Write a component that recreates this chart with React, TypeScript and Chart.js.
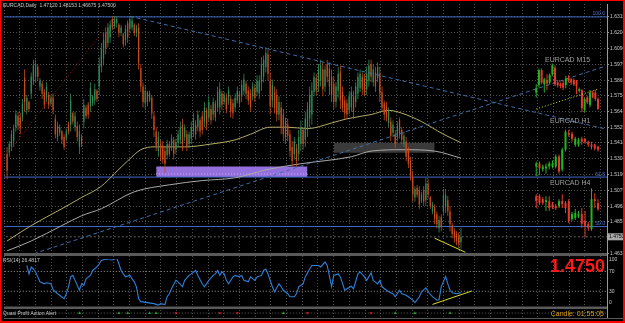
import React, { useEffect, useRef } from 'react';
import { Chart, registerables } from 'chart.js';

Chart.register(...registerables);

// ---------------- texts ----------------
const titleText = 'EURCAD,Daily  1.47120 1.48153 1.46675 1.47500';
const rsiTitle = 'RSI(14) 26.4817';
const alertTitle = 'Quasi Profit Action Alert';
const timerText = 'Candle: 01:55:05';
const miniLabels = ['EURCAD M15', 'EURCAD H1', 'EURCAD H4'];

// ---------------- daily candles [open, high, low, close] ----------------
const dailyCandles: number[][] = [
  [1.534,1.539,1.516,1.522],[1.535,1.543,1.532,1.541],[1.539,1.551,1.536,1.548],[1.543,1.555,1.539,1.552],
  [1.553,1.565,1.550,1.562],[1.561,1.564,1.551,1.554],[1.560,1.563,1.548,1.552],[1.560,1.573,1.557,1.570],
  [1.588,1.594,1.564,1.571],[1.565,1.576,1.562,1.574],[1.571,1.572,1.564,1.566],[1.577,1.592,1.573,1.589],
  [1.586,1.601,1.583,1.597],[1.589,1.601,1.585,1.598],[1.596,1.598,1.586,1.589],[1.582,1.588,1.579,1.586],
  [1.584,1.586,1.573,1.577],[1.578,1.580,1.566,1.569],[1.574,1.585,1.571,1.582],[1.576,1.578,1.566,1.569],
  [1.570,1.576,1.568,1.574],[1.574,1.577,1.562,1.565],[1.559,1.562,1.545,1.548],[1.554,1.557,1.543,1.546],
  [1.549,1.555,1.547,1.553],[1.550,1.551,1.541,1.544],[1.546,1.548,1.537,1.539],[1.545,1.552,1.543,1.550],
  [1.555,1.557,1.548,1.550],[1.555,1.577,1.550,1.572],[1.563,1.564,1.555,1.557],[1.553,1.564,1.550,1.561],
  [1.554,1.557,1.543,1.546],[1.539,1.555,1.534,1.550],[1.546,1.548,1.539,1.541],[1.557,1.573,1.552,1.569],
  [1.567,1.569,1.559,1.561],[1.569,1.571,1.559,1.562],[1.568,1.585,1.564,1.581],[1.570,1.576,1.568,1.575],
  [1.572,1.584,1.569,1.580],[1.579,1.580,1.571,1.573],[1.582,1.603,1.576,1.597],[1.596,1.613,1.592,1.609],
  [1.602,1.620,1.597,1.615],[1.620,1.624,1.605,1.609],[1.613,1.627,1.610,1.624],[1.617,1.629,1.613,1.626],
  [1.630,1.632,1.622,1.624],[1.625,1.632,1.623,1.630],[1.627,1.632,1.624,1.630],[1.626,1.627,1.617,1.620],
  [1.620,1.626,1.618,1.624],[1.619,1.620,1.610,1.612],[1.615,1.626,1.611,1.623],[1.627,1.629,1.613,1.617],
  [1.623,1.632,1.620,1.630],[1.624,1.632,1.622,1.629],[1.626,1.627,1.618,1.620],[1.620,1.626,1.617,1.624],
  [1.624,1.627,1.594,1.599],[1.595,1.598,1.578,1.582],[1.582,1.585,1.567,1.571],[1.570,1.583,1.566,1.579],
  [1.578,1.579,1.568,1.571],[1.572,1.579,1.571,1.577],[1.574,1.576,1.559,1.563],[1.561,1.564,1.546,1.551],
  [1.550,1.553,1.536,1.539],[1.536,1.550,1.532,1.546],[1.541,1.544,1.529,1.532],[1.540,1.543,1.527,1.530],
  [1.536,1.539,1.520,1.527],[1.533,1.544,1.530,1.541],[1.541,1.543,1.532,1.534],[1.539,1.548,1.536,1.545],
  [1.544,1.546,1.530,1.534],[1.537,1.545,1.534,1.542],[1.542,1.551,1.539,1.548],[1.544,1.557,1.541,1.553],
  [1.555,1.559,1.536,1.541],[1.546,1.555,1.543,1.553],[1.548,1.551,1.536,1.539],[1.541,1.550,1.538,1.548],
  [1.545,1.557,1.541,1.553],[1.550,1.563,1.546,1.559],[1.555,1.558,1.544,1.548],[1.553,1.565,1.550,1.562],
  [1.558,1.560,1.546,1.550],[1.561,1.564,1.548,1.551],[1.557,1.571,1.553,1.567],[1.565,1.567,1.551,1.555],
  [1.560,1.575,1.557,1.571],[1.566,1.569,1.555,1.558],[1.562,1.574,1.558,1.571],[1.570,1.572,1.557,1.560],
  [1.567,1.582,1.564,1.578],[1.567,1.585,1.562,1.580],[1.577,1.579,1.565,1.569],[1.571,1.578,1.569,1.576],
  [1.574,1.577,1.563,1.566],[1.572,1.582,1.569,1.579],[1.573,1.576,1.560,1.564],[1.570,1.573,1.559,1.563],
  [1.567,1.577,1.564,1.574],[1.572,1.582,1.570,1.579],[1.577,1.579,1.567,1.570],[1.575,1.586,1.571,1.583],
  [1.579,1.591,1.576,1.587],[1.584,1.586,1.573,1.577],[1.579,1.582,1.569,1.572],[1.577,1.580,1.564,1.567],
  [1.575,1.585,1.572,1.582],[1.581,1.584,1.571,1.574],[1.578,1.590,1.575,1.586],[1.577,1.590,1.573,1.586],
  [1.585,1.603,1.579,1.598],[1.589,1.604,1.585,1.601],[1.596,1.610,1.592,1.606],[1.605,1.608,1.586,1.591],
  [1.586,1.592,1.562,1.568],[1.572,1.587,1.567,1.583],[1.578,1.582,1.563,1.567],[1.576,1.580,1.557,1.562],
  [1.562,1.575,1.558,1.571],[1.567,1.571,1.548,1.553],[1.562,1.566,1.543,1.548],[1.557,1.560,1.541,1.546],
  [1.555,1.559,1.543,1.547],[1.548,1.551,1.532,1.536],[1.539,1.543,1.525,1.529],[1.534,1.546,1.530,1.543],
  [1.538,1.541,1.525,1.529],[1.534,1.551,1.529,1.546],[1.541,1.558,1.536,1.553],[1.551,1.553,1.537,1.541],
  [1.544,1.564,1.539,1.559],[1.551,1.571,1.546,1.566],[1.559,1.582,1.553,1.576],[1.562,1.585,1.555,1.579],
  [1.578,1.592,1.575,1.589],[1.588,1.591,1.576,1.579],[1.582,1.598,1.578,1.594],[1.586,1.601,1.582,1.597],
  [1.594,1.599,1.575,1.580],[1.582,1.597,1.578,1.594],[1.598,1.601,1.585,1.589],[1.595,1.599,1.576,1.582],
  [1.589,1.594,1.571,1.576],[1.584,1.589,1.566,1.571],[1.571,1.585,1.567,1.582],[1.579,1.596,1.574,1.591],
  [1.592,1.597,1.566,1.572],[1.578,1.582,1.564,1.567],[1.572,1.575,1.559,1.563],[1.570,1.573,1.559,1.562],
  [1.565,1.578,1.562,1.575],[1.567,1.582,1.564,1.578],[1.575,1.579,1.559,1.564],[1.571,1.585,1.567,1.582],
  [1.577,1.592,1.573,1.589],[1.581,1.594,1.578,1.591],[1.589,1.592,1.576,1.580],[1.588,1.591,1.575,1.578],
  [1.580,1.596,1.576,1.591],[1.586,1.601,1.582,1.597],[1.598,1.601,1.585,1.589],[1.585,1.598,1.582,1.594],
  [1.592,1.596,1.578,1.582],[1.588,1.599,1.585,1.596],[1.591,1.596,1.571,1.577],[1.578,1.582,1.564,1.567],
  [1.570,1.572,1.558,1.562],[1.568,1.571,1.557,1.560],[1.556,1.567,1.553,1.565],[1.557,1.560,1.543,1.547],
  [1.549,1.558,1.546,1.555],[1.548,1.551,1.538,1.541],[1.546,1.557,1.543,1.554],[1.558,1.560,1.545,1.548],
  [1.551,1.553,1.541,1.544],[1.541,1.550,1.539,1.547],[1.543,1.546,1.529,1.532],[1.536,1.539,1.524,1.527],
  [1.529,1.532,1.515,1.518],[1.517,1.522,1.500,1.505],[1.503,1.511,1.500,1.509],[1.510,1.512,1.503,1.505],
  [1.508,1.511,1.495,1.498],[1.501,1.507,1.499,1.505],[1.508,1.511,1.497,1.500],[1.501,1.517,1.497,1.513],
  [1.513,1.516,1.502,1.505],[1.503,1.504,1.495,1.497],[1.493,1.500,1.491,1.498],[1.496,1.498,1.484,1.488],
  [1.491,1.493,1.481,1.484],[1.481,1.490,1.478,1.487],[1.489,1.491,1.479,1.482],[1.493,1.509,1.490,1.505],
  [1.496,1.509,1.492,1.505],[1.501,1.504,1.490,1.493],[1.493,1.497,1.479,1.484],[1.483,1.485,1.474,1.477],
  [1.479,1.481,1.471,1.474],[1.477,1.479,1.469,1.472],[1.476,1.478,1.467,1.470],[1.4712,1.48153,1.46675,1.475],
];

// ---------------- price axis ----------------
const priceTicks = [1.6315,1.6204,1.6090,1.5979,1.5865,1.5754,1.5643,1.5529,1.5418,1.5304,1.5190,1.5079,1.4968,1.4857,1.4633];
const bidPrice = 1.475;

// ---------------- moving averages (bar index, value) ----------------
const maYellowIdx = [0,11,25,34,43,49,55,61,67,81,93,104,111,120,128,137,148,155,166,174,180,189,199,207];
const maYellowVals = [1.472,1.483,1.495,1.503,1.511,1.520,1.529,1.537,1.539,1.539,1.541,1.544,1.548,1.553,1.553,1.552,1.556,1.559,1.562,1.565,1.563,1.557,1.548,1.542];
const maGrayIdx = [0,11,25,34,43,58,74,89,104,119,134,157,166,181,195,207];
const maGrayVals = [1.465,1.472,1.483,1.490,1.495,1.507,1.512,1.515,1.517,1.523,1.527,1.532,1.536,1.537,1.536,1.531];

// ---------------- RSI (bar index, value) ----------------
const rsiIdx = [9,10,11,12,13,14,15,17,18,20,21,23,24,26,27,28,29,30,31,33,34,35,36,38,39,41,42,43,45,46,48,50,51,52,53,54,56,58,59,60,61,64,67,69,70,72,73,74,75,77,78,80,81,83,84,86,87,89,90,91,92,94,95,96,97,98,99,100,101,103,104,106,107,108,110,111,113,114,116,117,118,119,120,121,122,124,125,126,128,129,131,132,133,135,136,138,139,142,143,145,146,148,149,151,152,154,155,157,158,160,161,163,164,166,167,169,170,171,173,174,176,177,179,180,182,183,185,186,188,189,191,192,194,196,197,198,200,201,202,203,205,207];
const rsiVals = [82,65,79,75,69,59,49,45,47,45,33,25,22,15,25,39,59,62,52,32,45,42,55,62,72,79,85,92,95,94,93,97,85,72,65,59,62,49,39,15,9,7,5,2,5,3,19,25,35,52,49,39,52,62,65,72,62,45,39,45,52,62,65,72,62,69,65,52,45,59,62,59,62,52,49,59,52,59,62,72,75,65,52,39,29,45,39,32,25,19,19,25,39,45,59,75,82,82,79,89,82,39,62,65,59,32,35,40,35,65,69,59,52,67,52,45,52,39,32,29,25,19,32,25,22,19,12,7,19,29,37,29,19,12,13,39,60,45,32,27,25,27];
const rsiTicks = [100, 70, 30, 0];
const rsiLevels = [70, 30];

// ---------------- drawn objects ----------------
const fibLevels = [1.6315, 1.5175, 1.4823];
const fibLabels = ['100.0', '61.8', '50.0'];
const descLineIdx = [56, 273];
const descLineVals = [1.632, 1.5517];
const ascLineIdx = [0, 273];
const ascLineVals = [1.4567, 1.5965];
const redLineIdx = [1, 49];
const redLineVals = [1.536, 1.632];
const priceDivIdx = [195, 209];
const priceDivVals = [1.474, 1.464];
const rsiDivIdx = [194, 212];
const rsiDivVals = [3.4, 30.6];
const zoneIdx = [68, 137];
const zoneTop = 1.5251;
const zoneBottom = 1.5175;
const zoneMid = 1.5197;
const boxIdx = [149, 195];
const boxTop = 1.542;
const boxBottom = 1.5349;

// ---------------- alert arrows (bar index) ----------------
const alertUpIdx = [33, 51, 55, 65, 68, 126, 177, 186, 202];
const alertDownIdx = [77, 97, 105, 137, 166];

// ---------------- mini charts [open, high, low, close] ----------------
const m15Candles: number[][] = [
  [1.4770,1.4780,1.4764,1.4775],[1.4779,1.4799,1.4776,1.4797],[1.4797,1.4799,1.4780,1.4782],[1.4780,1.4788,1.4770,1.4786],
  [1.4785,1.4792,1.4773,1.4781],[1.4782,1.4793,1.4780,1.4791],[1.4792,1.4805,1.4790,1.4803],[1.4800,1.4803,1.4778,1.4780],
  [1.4782,1.4785,1.4776,1.4779],[1.4781,1.4782,1.4775,1.4778],[1.4781,1.4785,1.4773,1.4776],[1.4779,1.4790,1.4775,1.4787],
  [1.4788,1.4791,1.4782,1.4784],[1.4786,1.4788,1.4779,1.4782],[1.4785,1.4787,1.4778,1.4780],[1.4784,1.4785,1.4768,1.4778],
  [1.4772,1.4776,1.4770,1.4774],[1.4773,1.4774,1.4746,1.4751],[1.4749,1.4764,1.4746,1.4762],[1.4764,1.4766,1.4756,1.4758],
  [1.4755,1.4773,1.4752,1.4770],[1.4770,1.4772,1.4763,1.4764],[1.4770,1.4773,1.4760,1.4762],[1.4762,1.4764,1.4749,1.4750],
];
const m15TrendIdx = [0, 23];
const m15TrendVals = [1.475, 1.4774];
const h1Candles: number[][] = [
  [1.4699,1.4714,1.4669,1.4708],[1.4708,1.4714,1.4672,1.4693],[1.4690,1.4705,1.4684,1.4699],[1.4693,1.4708,1.4678,1.4699],
  [1.4699,1.4714,1.4690,1.4708],[1.4699,1.4717,1.4693,1.4708],[1.4699,1.4735,1.4693,1.4729],[1.4729,1.4735,1.4678,1.4684],
  [1.4690,1.4756,1.4684,1.4750],[1.4750,1.4810,1.4744,1.4804],[1.4801,1.4810,1.4789,1.4795],[1.4798,1.4804,1.4774,1.4783],
  [1.4765,1.4789,1.4759,1.4783],[1.4765,1.4786,1.4759,1.4780],[1.4783,1.4789,1.4765,1.4774],[1.4783,1.4786,1.4768,1.4774],
  [1.4774,1.4777,1.4759,1.4765],[1.4765,1.4774,1.4750,1.4759],[1.4765,1.4768,1.4747,1.4753],[1.4759,1.4762,1.4744,1.4750],
];
const h4Candles: number[][] = [
  [1.4815,1.4825,1.4755,1.4790],[1.4815,1.4825,1.4770,1.4780],[1.4800,1.4810,1.4770,1.4780],[1.4785,1.4815,1.4740,1.4795],
  [1.4790,1.4815,1.4740,1.4755],[1.4775,1.4785,1.4750,1.4760],[1.4765,1.4775,1.4745,1.4755],[1.4765,1.4800,1.4755,1.4790],
  [1.4790,1.4825,1.4755,1.4775],[1.4780,1.4790,1.4730,1.4755],[1.4790,1.4800,1.4680,1.4690],[1.4700,1.4735,1.4690,1.4725],
  [1.4705,1.4750,1.4695,1.4730],[1.4715,1.4740,1.4705,1.4725],[1.4725,1.4755,1.4655,1.4675],[1.4690,1.4740,1.4605,1.4665],
  [1.4675,1.4685,1.4640,1.4655],[1.4650,1.4855,1.4640,1.4800],[1.4800,1.4830,1.4755,1.4790],[1.4780,1.4800,1.4740,1.4750],
];

// ---------------- layout constants ----------------
const X_MIN = -1.4;
const X_MAX = 273.6;
const GRID = '#505050';
const FONT = '"Liberation Sans", Arial, sans-serif';
const MAIN_CLIP = { left: 0, top: 0, right: 0, bottom: -65 };
const RSI_CLIP = { left: 0, top: -255, right: 0, bottom: -12 };

const pts = (idx: number[], vals: number[]) => idx.map((x, k) => ({ x, y: vals[k] }));

function candleSets(c: number[][], xAxisID: string, yAxisID: string, up: string, down: string, wick: number, body: number, order: number, clip?: any) {
  const colors = c.map((k) => (k[3] >= k[0] ? up : down));
  const common: any = { type: 'bar', grouped: false, inflateAmount: 0, categoryPercentage: 1, barPercentage: 1, xAxisID, yAxisID, backgroundColor: colors, borderWidth: 0 };
  if (clip) common.clip = clip;
  return [
    { ...common, data: c.map((k, i) => ({ x: i, y: [k[2], k[1]] })), maxBarThickness: wick, order },
    { ...common, data: c.map((k, i) => ({ x: i, y: [Math.min(k[0], k[3]), Math.max(k[0], k[3])] })), maxBarThickness: body, minBarLength: 1, order: order - 1 },
  ];
}

function lineSet(data: any[], color: string, width: number, order: number, extra: any = {}) {
  return { type: 'line', data, borderColor: color, borderWidth: width, pointRadius: 0, fill: false, tension: 0, order, xAxisID: 'x', yAxisID: 'y', ...extra };
}

const overlayPlugin = {
  id: 'mtOverlay',
  beforeDraw(chart: any) {
    const { ctx, width, height } = chart;
    ctx.save();
    ctx.fillStyle = '#000';
    ctx.fillRect(0, 0, width, height);
    ctx.restore();
  },
  afterDraw(chart: any) {
    const { ctx, chartArea: a, scales } = chart;
    const sy = scales.y;
    const sr = scales.yr;
    ctx.save();
    // panel separators
    ctx.fillStyle = '#5a5a5a';
    ctx.fillRect(a.left, 253, a.right - a.left, 3);
    ctx.fillRect(a.left, 306.5, a.right - a.left, 2.5);
    ctx.fillRect(a.left, 318, a.right - a.left + 16, 1);

    ctx.textBaseline = 'alphabetic';
    ctx.textAlign = 'left';
    ctx.font = `5px ${FONT}`;
    ctx.fillStyle = '#c8c8c8';
    ctx.fillText(titleText, 3, 7);
    ctx.fillText(rsiTitle, 3, 262);
    ctx.fillText(alertTitle, 3, 315);

    // fibo labels
    ctx.textAlign = 'right';
    ctx.fillStyle = '#4a70d0';
    fibLevels.forEach((lv, k) => ctx.fillText(fibLabels[k], 605, sy.getPixelForValue(lv) - 1.5));

    // mini chart labels
    ctx.textAlign = 'left';
    ctx.font = `7px ${FONT}`;
    ctx.fillStyle = '#9c9c9c';
    ctx.fillText(miniLabels[0], 545, 62);
    ctx.fillText(miniLabels[1], 550, 123);
    ctx.fillText(miniLabels[2], 550, 185);

    // RSI axis labels
    ctx.font = `5px ${FONT}`;
    ctx.fillStyle = '#c8c8c8';
    ctx.textBaseline = 'middle';
    rsiTicks.forEach((v) => {
      let py = sr.getPixelForValue(v);
      if (v === 100) py += 3;
      if (v === 0) py -= 3;
      ctx.fillText(String(v), 609, py);
    });

    // current price tag
    const bp = sy.getPixelForValue(bidPrice);
    ctx.fillStyle = '#a8a8a8';
    ctx.fillRect(607, bp - 3.5, 16, 7);
    ctx.fillStyle = '#000';
    ctx.fillText(bidPrice.toFixed(4), 609, bp);

    // big price
    ctx.textBaseline = 'alphabetic';
    ctx.textAlign = 'right';
    ctx.font = `bold 18px ${FONT}`;
    ctx.fillStyle = '#ff1a1a';
    ctx.fillText(bidPrice.toFixed(4), 605, 271.5);

    // candle timer
    ctx.font = `7px ${FONT}`;
    ctx.fillStyle = '#d9a21b';
    ctx.fillText(timerText, 604, 316);

    // red frame
    ctx.fillStyle = '#ff0000';
    ctx.fillRect(0, 0, 625, 1);
    ctx.fillRect(0, 0, 1.5, 323);
    ctx.fillRect(623, 0, 2, 323);
    ctx.fillRect(0, 321, 625, 2);
    ctx.restore();
  },
};

export default function App() {
  const ref = useRef<HTMLCanvasElement>(null);
  useEffect(() => {
    document.body.style.margin = '0';
    document.body.style.background = '#000';
    const canvas = ref.current;
    if (!canvas) return;

    const datasets: any[] = [
      // purple zone
      lineSet(pts(zoneIdx, [zoneTop, zoneTop]), 'transparent', 0, 100, { fill: { value: zoneBottom }, backgroundColor: '#9370db', clip: MAIN_CLIP }),
      lineSet(pts(zoneIdx, [zoneMid, zoneMid]), '#c9b4ff', 1, 98, { borderDash: [1, 2], clip: MAIN_CLIP }),
      // dark label box
      lineSet(pts(boxIdx, [boxTop, boxTop]), 'transparent', 0, 99, { fill: { value: boxBottom }, backgroundColor: '#3a3a3a', clip: MAIN_CLIP }),
      // fibo levels
      ...fibLevels.map((lv) => lineSet(pts([X_MIN - 1, X_MAX + 1], [lv, lv]), '#4169c8', 1, 90, { clip: MAIN_CLIP })),
      // bid line
      lineSet(pts([X_MIN - 1, X_MAX + 1], [bidPrice, bidPrice]), '#606060', 1, 91, { borderDash: [2, 2], clip: MAIN_CLIP }),
      // moving averages
      lineSet(pts(maGrayIdx, maGrayVals), '#a9a9a9', 1, 80, { cubicInterpolationMode: 'monotone', clip: MAIN_CLIP }),
      lineSet(pts(maYellowIdx, maYellowVals), '#b3ab66', 1, 80, { cubicInterpolationMode: 'monotone', clip: MAIN_CLIP }),
      // daily candles
      ...candleSets(dailyCandles, 'x', 'y', '#2f8a58', '#c94a1b', 0.8, 1.3, 71, MAIN_CLIP),
      // trend lines
      lineSet(pts(descLineIdx, descLineVals), '#3b6fa8', 1, 60, { borderDash: [4, 3], clip: MAIN_CLIP }),
      lineSet(pts(ascLineIdx, ascLineVals), '#3b6fa8', 1, 60, { borderDash: [4, 3], clip: MAIN_CLIP }),
      lineSet(pts(redLineIdx, redLineVals), '#a51010', 1, 60, { borderDash: [1, 2], clip: MAIN_CLIP }),
      lineSet(pts(priceDivIdx, priceDivVals), '#d8d820', 1, 55, { clip: MAIN_CLIP }),
      // mini charts
      ...candleSets(m15Candles, 'xm', 'ym', '#22b422', '#e33a2c', 1, 2, 50),
      ...candleSets(h1Candles, 'xh', 'yh1', '#22b422', '#e33a2c', 1, 2, 50),
      ...candleSets(h4Candles, 'xh', 'yh4', '#22b422', '#e33a2c', 1, 2, 50),
      { ...lineSet(pts(m15TrendIdx, m15TrendVals), '#e0e020', 1, 45, { borderDash: [1, 2] }), xAxisID: 'xm', yAxisID: 'ym' },
      // RSI
      ...rsiLevels.map((lv) => ({ ...lineSet(pts([X_MIN - 1, X_MAX + 1], [lv, lv]), '#9a9a9a', 1, 40, { borderDash: [1, 2], clip: RSI_CLIP }), yAxisID: 'yr' })),
      { ...lineSet(pts(rsiIdx, rsiVals), '#2f7fd8', 1.1, 39, { clip: RSI_CLIP }), yAxisID: 'yr' },
      { ...lineSet(pts(rsiDivIdx, rsiDivVals), '#d8d820', 1, 38, { clip: RSI_CLIP }), yAxisID: 'yr' },
      // alert panel
      { ...lineSet(pts([X_MIN - 1, X_MAX + 1], [0, 0]), '#5c5c5c', 1, 30, { borderDash: [1, 2] }), yAxisID: 'ya' },
      { type: 'line', data: alertUpIdx.map((x) => ({ x, y: 0 })), showLine: false, pointStyle: 'triangle', pointRadius: 1.8, pointRotation: 0, pointBackgroundColor: '#1ea01e', pointBorderColor: '#1ea01e', pointBorderWidth: 0, xAxisID: 'x', yAxisID: 'ya', order: 29 },
      { type: 'line', data: alertDownIdx.map((x) => ({ x, y: 0 })), showLine: false, pointStyle: 'triangle', pointRadius: 1.8, pointRotation: 180, pointBackgroundColor: '#e01818', pointBorderColor: '#e01818', pointBorderWidth: 0, xAxisID: 'x', yAxisID: 'ya', order: 29 },
    ];

    const chart = new Chart(canvas, {
      type: 'line',
      data: { datasets },
      plugins: [overlayPlugin],
      options: {
        responsive: false,
        animation: false,
        devicePixelRatio: 1,
        events: [],
        layout: { padding: { left: 2, top: 1, right: 2, bottom: 5 } },
        plugins: { legend: { display: false }, tooltip: { enabled: false } },
        scales: {
          x: { type: 'linear', min: X_MIN, max: X_MAX, display: false, offset: false },
          xg: {
            type: 'linear', position: 'bottom', min: 0, max: 605 / 15.75, offset: false,
            ticks: { display: false },
            grid: { color: GRID, drawTicks: false, lineWidth: 1 },
            border: { display: false, dash: [1, 2] },
            afterBuildTicks: (s: any) => { s.ticks = Array.from({ length: 39 }, (_, k) => ({ value: k })); },
          },
          y: {
            type: 'linear', position: 'right', min: 1.41721, max: 1.640695,
            afterBuildTicks: (s: any) => { s.ticks = priceTicks.map((v) => ({ value: v })); },
            afterFit: (s: any) => { s.width = 16; s.paddingTop = 0; s.paddingBottom = 0; },
            ticks: { color: '#c8c8c8', font: { size: 5, family: FONT }, padding: 1, autoSkip: false, maxRotation: 0, callback: (v: any) => Number(v).toFixed(4) },
            grid: { color: GRID, drawTicks: true, tickLength: 2, tickColor: '#9a9a9a', lineWidth: 1 },
            border: { display: true, color: '#9a9a9a', width: 1, dash: [1, 2] },
          },
          yr: { type: 'linear', display: false, min: -24, max: 610 },
          ya: { type: 'linear', display: false, min: -5, max: 312 },
          xm: { type: 'linear', display: false, min: -198.07, max: 26.34, offset: false },
          xh: { type: 'linear', display: false, min: -163.65, max: 21.76, offset: false },
          ym: { type: 'linear', display: false, min: 1.44968, max: 1.48772 },
          yh1: { type: 'linear', display: false, min: 1.424, max: 1.5191 },
          yh4: { type: 'linear', display: false, min: 1.42, max: 1.5785 },
        },
      } as any,
    } as any);
    return () => chart.destroy();
  }, []);
  return <canvas ref={ref} width={625} height={323} style={{ display: 'block', width: 625, height: 323 }} />;
}
